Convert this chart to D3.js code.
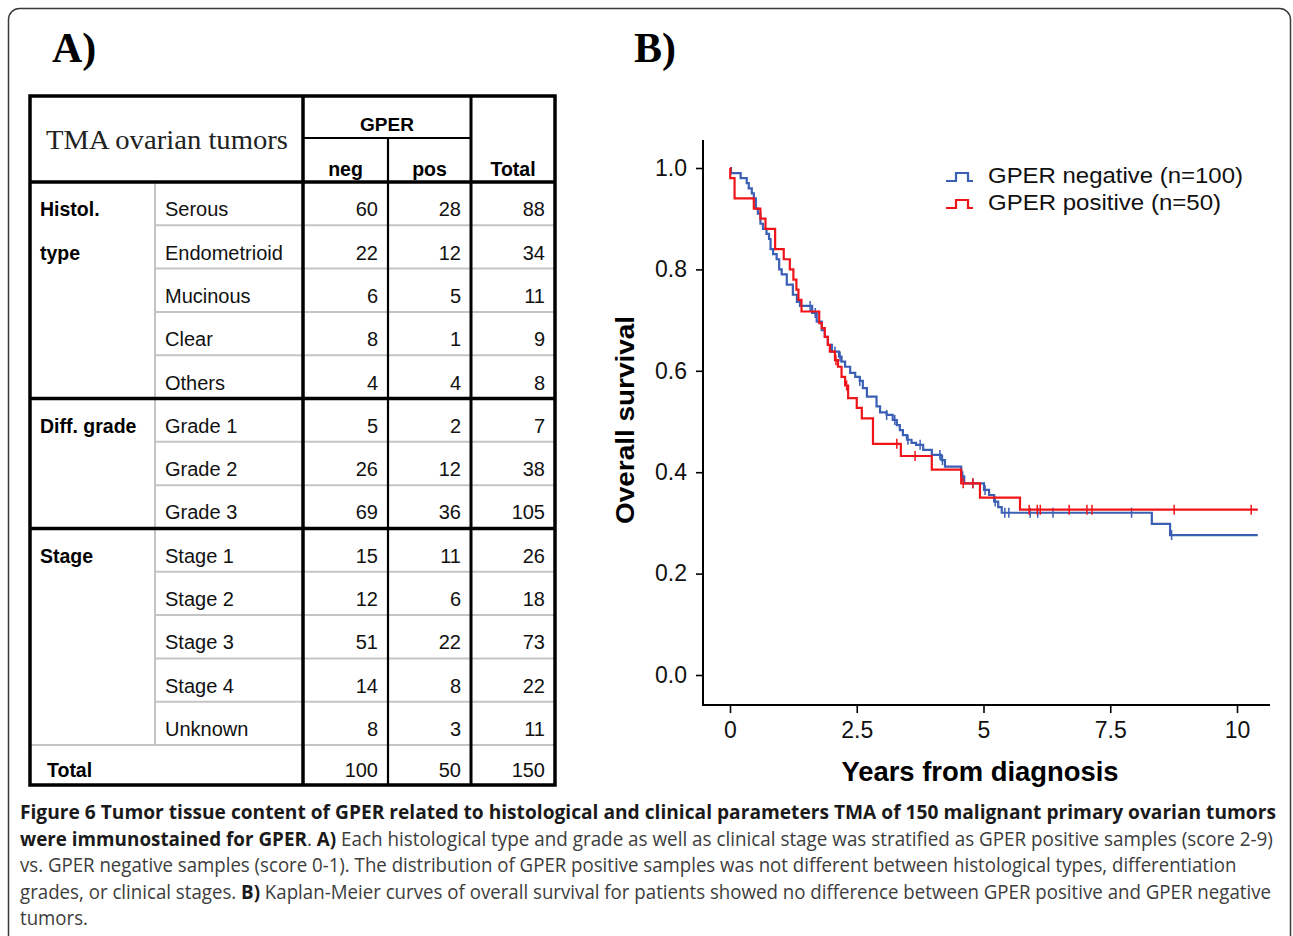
<!DOCTYPE html>
<html>
<head>
<meta charset="utf-8">
<script src="https://cdn.jsdelivr.net/npm/d3@7"></script>
<style>
  body { margin: 0; background: #fff; }
  svg { display: block; }
</style>
</head>
<body>
<div id="chart"></div>
<script>
// ---- table data (panel A) ----
const groupLabels = [["Histol.", "type"], ["Diff. grade"], ["Stage"]];
const groupSizes = [5, 3, 5];
const rowLabels = ["Serous", "Endometrioid", "Mucinous", "Clear", "Others",
  "Grade 1", "Grade 2", "Grade 3",
  "Stage 1", "Stage 2", "Stage 3", "Stage 4", "Unknown"];
const negCounts = [60, 22, 6, 8, 4, 5, 26, 69, 15, 12, 51, 14, 8];
const posCounts = [28, 12, 5, 1, 4, 2, 12, 36, 11, 6, 22, 8, 3];
const totalCounts = [88, 34, 11, 9, 8, 7, 38, 105, 26, 18, 73, 22, 11];
const totalRow = [100, 50, 150];
const headerCols = ["neg", "pos", "Total"];

// ---- Kaplan-Meier data (panel B): [years, survival after event] ----
const negSteps = [[0, 1.0], [0.02, 0.99], [0.21, 0.98], [0.33, 0.97], [0.37, 0.96], [0.43, 0.95],
  [0.47, 0.94], [0.51, 0.92], [0.55, 0.91], [0.60, 0.89], [0.65, 0.88], [0.72, 0.87],
  [0.77, 0.86], [0.80, 0.84], [0.85, 0.83], [0.92, 0.82], [0.97, 0.80], [1.02, 0.79],
  [1.12, 0.77], [1.24, 0.75], [1.32, 0.736], [1.38, 0.728], [1.62, 0.714], [1.71, 0.697],
  [1.81, 0.68], [1.87, 0.667], [1.93, 0.651], [2.01, 0.638], [2.15, 0.628], [2.20, 0.618],
  [2.27, 0.608], [2.37, 0.596], [2.47, 0.588], [2.56, 0.58], [2.62, 0.566], [2.70, 0.549],
  [2.89, 0.53], [2.96, 0.518], [3.09, 0.513], [3.21, 0.503], [3.29, 0.493], [3.35, 0.483],
  [3.41, 0.473], [3.49, 0.464], [3.58, 0.458], [3.67, 0.454], [3.81, 0.444], [3.98, 0.434],
  [4.17, 0.424], [4.24, 0.411], [4.56, 0.392], [4.62, 0.378], [5.01, 0.365], [5.11, 0.355],
  [5.21, 0.342], [5.29, 0.331], [5.36, 0.320], [8.32, 0.298], [8.68, 0.276], [10.41, 0.276]];
const negCensored = [1.58, 1.68, 2.07, 2.17, 2.56, 3.09, 3.25, 3.51, 3.75, 4.14, 4.19,
  4.59, 4.79, 5.03, 5.23, 5.42, 5.50, 5.92, 6.07, 6.37, 7.92, 8.71];
const posSteps = [[0, 1.0], [0.005, 0.98], [0.09, 0.94], [0.47, 0.92], [0.60, 0.90], [0.70, 0.88],
  [0.89, 0.84], [1.06, 0.82], [1.18, 0.80], [1.25, 0.78], [1.31, 0.76], [1.35, 0.74],
  [1.41, 0.717], [1.76, 0.694], [1.81, 0.684], [1.87, 0.667], [1.93, 0.651], [1.97, 0.638],
  [2.07, 0.621], [2.13, 0.608], [2.20, 0.588], [2.27, 0.571], [2.33, 0.546], [2.50, 0.527],
  [2.60, 0.506], [2.82, 0.456], [3.37, 0.432], [3.98, 0.405], [4.56, 0.378], [4.93, 0.350],
  [5.72, 0.326], [10.41, 0.326]];
const posCensored = [2.09, 2.30, 3.29, 3.65, 4.60, 4.79, 5.90, 6.06, 6.12, 6.69, 7.04,
  7.14, 8.76, 10.28];
const xTicks = [0, 2.5, 5, 7.5, 10];
const yTicks = [0, 0.2, 0.4, 0.6, 0.8, 1.0];
const seriesNames = ["GPER negative (n=100)", "GPER positive (n=50)"];

const captionLines = [
  [["b", "Figure 6 Tumor tissue content of GPER related to histological and clinical parameters TMA of 150 malignant primary ovarian tumors"]],
  [["b", "were immunostained for GPER"], ["r", ". "], ["b", "A)"], ["r", " Each histological type and grade as well as clinical stage was stratified as GPER positive samples (score 2-9)"]],
  [["r", "vs. GPER negative samples (score 0-1). The distribution of GPER positive samples was not different between histological types, differentiation"]],
  [["r", "grades, or clinical stages. "], ["b", "B)"], ["r", " Kaplan-Meier curves of overall survival for patients showed no difference between GPER positive and GPER negative"]],
  [["r", "tumors."]]
];
const captionWidths = [1257, 1254, 1217, 1252, 68];

const W = 1293, H = 936;
const sans = "'Liberation Sans', Arial, sans-serif";
const serif = "'Liberation Serif', 'Times New Roman', serif";

const svg = d3.select("#chart").append("svg")
  .attr("width", W).attr("height", H)
  .attr("viewBox", `0 0 ${W} ${H}`);

svg.append("rect").attr("width", W).attr("height", H).attr("fill", "#fff");
svg.append("rect")
  .attr("x", 8.5).attr("y", 8.5).attr("width", 1282).attr("height", 960)
  .attr("rx", 11).attr("fill", "none").attr("stroke", "#3a3a3a").attr("stroke-width", 1.5);

// panel labels
svg.append("text").attr("x", 52).attr("y", 62).text("A)")
  .style("font-family", serif).style("font-weight", "bold").style("font-size", "42px");
svg.append("text").attr("x", 634).attr("y", 62).text("B)")
  .style("font-family", serif).style("font-weight", "bold").style("font-size", "42px");

// ================= table =================
const tbl = svg.append("g");
const colX = [30, 155, 303, 388, 471, 555];
const rowY = d3.scaleLinear().domain([0, rowLabels.length]).range([182, 745]);
const rowH = rowY(1) - rowY(0);

// light separators
tbl.selectAll("line.rowsep")
  .data(d3.range(1, rowLabels.length))
  .enter().append("line")
  .attr("x1", colX[1]).attr("x2", colX[5])
  .attr("y1", d => rowY(d)).attr("y2", d => rowY(d))
  .attr("stroke", "#c4c4c4").attr("stroke-width", 2);
tbl.append("line").attr("x1", colX[0]).attr("x2", colX[5])
  .attr("y1", rowY(rowLabels.length)).attr("y2", rowY(rowLabels.length))
  .attr("stroke", "#c4c4c4").attr("stroke-width", 2);
tbl.append("line").attr("x1", colX[1]).attr("x2", colX[1])
  .attr("y1", rowY(0)).attr("y2", rowY(rowLabels.length))
  .attr("stroke", "#c4c4c4").attr("stroke-width", 2);

// heavy lines
const groupEnds = Array.from(d3.cumsum(groupSizes));
const heavy = [[colX[0], 182, colX[5], 182]]
  .concat(groupEnds.slice(0, -1).map(e => [colX[0], rowY(e), colX[5], rowY(e)]));
tbl.selectAll("line.heavy").data(heavy).enter().append("line")
  .attr("x1", d => d[0]).attr("y1", d => d[1]).attr("x2", d => d[2]).attr("y2", d => d[3])
  .attr("stroke", "#000").attr("stroke-width", 3.5);
tbl.append("line").attr("x1", colX[2]).attr("x2", colX[2]).attr("y1", 96).attr("y2", 785)
  .attr("stroke", "#000").attr("stroke-width", 3.5);
tbl.append("line").attr("x1", colX[3]).attr("x2", colX[3]).attr("y1", 138).attr("y2", 785)
  .attr("stroke", "#000").attr("stroke-width", 2.2);
tbl.append("line").attr("x1", colX[4]).attr("x2", colX[4]).attr("y1", 96).attr("y2", 785)
  .attr("stroke", "#000").attr("stroke-width", 3);
tbl.append("line").attr("x1", colX[2]).attr("x2", colX[4]).attr("y1", 138).attr("y2", 138)
  .attr("stroke", "#000").attr("stroke-width", 2.2);
tbl.append("rect").attr("x", 30).attr("y", 96).attr("width", 525).attr("height", 689)
  .attr("fill", "none").attr("stroke", "#000").attr("stroke-width", 3.5);

// header text
tbl.append("text").attr("x", 167).attr("y", 149).attr("text-anchor", "middle")
  .text("TMA ovarian tumors")
  .attr("textLength", 242).attr("lengthAdjust", "spacingAndGlyphs")
  .style("font-family", serif).style("font-size", "28px").attr("fill", "#222");
tbl.append("text").attr("x", 387).attr("y", 131).attr("text-anchor", "middle").text("GPER")
  .style("font-family", sans).style("font-weight", "bold").style("font-size", "19px");
tbl.selectAll("text.hcol").data(headerCols).enter().append("text")
  .attr("x", (d, i) => (colX[i + 2] + colX[i + 3]) / 2).attr("y", 176)
  .attr("text-anchor", "middle").text(d => d)
  .style("font-family", sans).style("font-weight", "bold").style("font-size", "19.5px");

// group labels
groupLabels.forEach((lines, g) => {
  const start = g === 0 ? 0 : groupEnds[g - 1];
  lines.forEach((t, k) => {
    tbl.append("text").attr("x", 40).attr("y", rowY(start + k) + rowH - 9)
      .text(t)
      .style("font-family", sans).style("font-weight", "bold").style("font-size", "19.5px");
  });
});

// row labels & numbers
const rows = tbl.selectAll("g.row").data(rowLabels).enter().append("g")
  .attr("transform", (d, i) => `translate(0,${rowY(i) + rowH - 9})`);
rows.append("text").attr("x", 165).text(d => d)
  .style("font-family", sans).style("font-size", "20px").attr("fill", "#111");
[negCounts, posCounts, totalCounts].forEach((arr, c) => {
  rows.append("text").attr("x", colX[c + 3] - 10).attr("text-anchor", "end")
    .text((d, i) => arr[i])
    .style("font-family", sans).style("font-size", "20px").attr("fill", "#111");
});
tbl.append("text").attr("x", 47).attr("y", 777).text("Total")
  .style("font-family", sans).style("font-weight", "bold").style("font-size", "19.5px");
tbl.selectAll("text.tot").data(totalRow).enter().append("text")
  .attr("x", (d, i) => colX[i + 3] - 10).attr("y", 777).attr("text-anchor", "end")
  .text(d => d).style("font-family", sans).style("font-size", "20px").attr("fill", "#111");

// ================= Kaplan-Meier =================
const x = d3.scaleLinear().domain([0, 10]).range([730, 1237]);
const y = d3.scaleLinear().domain([0, 1]).range([675, 168]);
const km = svg.append("g");

const yAxis = km.append("g").attr("transform", "translate(703,0)")
  .call(d3.axisLeft(y).tickValues(yTicks).tickFormat(d3.format(".1f")).tickSize(7).tickPadding(9));
const xAxis = km.append("g").attr("transform", "translate(0,705)")
  .call(d3.axisBottom(x).tickValues(xTicks).tickFormat(d3.format("")).tickSize(8).tickPadding(7));
[yAxis, xAxis].forEach(a => {
  a.select(".domain").remove();
  a.selectAll("line").attr("stroke", "#000").attr("stroke-width", 1.6);
  a.selectAll("text").style("font-family", sans).style("font-size", "23px").attr("fill", "#111");
});
xAxis.selectAll("text").attr("dy", "0.78em");
km.append("line").attr("x1", 703).attr("x2", 703).attr("y1", 140).attr("y2", 706)
  .attr("stroke", "#000").attr("stroke-width", 2);
km.append("line").attr("x1", 702).attr("x2", 1270).attr("y1", 705).attr("y2", 705)
  .attr("stroke", "#000").attr("stroke-width", 2);

km.append("text").attr("transform", "translate(634,420) rotate(-90)")
  .attr("text-anchor", "middle").text("Overall survival")
  .attr("textLength", 208).attr("lengthAdjust", "spacingAndGlyphs")
  .style("font-family", sans).style("font-weight", "bold").style("font-size", "25px");
km.append("text").attr("x", 980).attr("y", 781).attr("text-anchor", "middle")
  .text("Years from diagnosis")
  .attr("textLength", 277).attr("lengthAdjust", "spacingAndGlyphs")
  .style("font-family", sans).style("font-weight", "bold").style("font-size", "27px");

const stepLine = d3.line().x(d => x(d[0])).y(d => y(d[1])).curve(d3.curveStepAfter);
function survAt(steps, t) {
  let s = steps[0][1];
  steps.forEach(d => { if (d[0] <= t) s = d[1]; });
  return s;
}
const series = [
  { steps: negSteps, cens: negCensored, color: "#3b5fb5" },
  { steps: posSteps, cens: posCensored, color: "#f01419" }
];
series.forEach(s => {
  km.append("path").datum(s.steps).attr("d", stepLine)
    .attr("fill", "none").attr("stroke", s.color).attr("stroke-width", 2.2);
  km.selectAll(null).data(s.cens).enter().append("line")
    .attr("x1", d => x(d)).attr("x2", d => x(d))
    .attr("y1", d => y(survAt(s.steps, d)) - 5).attr("y2", d => y(survAt(s.steps, d)) + 5)
    .attr("stroke", s.color).attr("stroke-width", 1.5);
});

// legend
const leg = km.append("g").attr("transform", "translate(946,168)");
seriesNames.forEach((name, i) => {
  const g = leg.append("g").attr("transform", `translate(0,${i * 27})`);
  g.append("path").attr("d", "M0,13 H10 V5 H22 V13 H27")
    .attr("fill", "none").attr("stroke", series[i].color).attr("stroke-width", 2.2);
  g.append("text").attr("x", 42).attr("y", 15).text(name)
    .attr("textLength", i === 0 ? 255 : 233).attr("lengthAdjust", "spacingAndGlyphs")
    .style("font-family", sans).style("font-size", "22px").attr("fill", "#111");
});

// ================= caption =================
// each line is laid out at natural width, then squeezed horizontally to the reference width
const cap = svg.append("g");
captionLines.forEach((parts, i) => {
  const t = cap.append("text")
    .style("font-family", "'Open Sans', sans-serif").style("font-size", "20px");
  parts.forEach(p => {
    t.append("tspan").text(p[1])
      .style("font-weight", p[0] === "b" ? "bold" : "normal")
      .attr("fill", p[0] === "b" ? "#1a1a1a" : "#3c3c3c");
  });
  const natural = t.node().getComputedTextLength();
  const k = Math.min(1, captionWidths[i] / natural);
  t.attr("transform", `translate(20,${819 + i * 26.5}) scale(${k},1)`);
});
</script>
</body>
</html>
